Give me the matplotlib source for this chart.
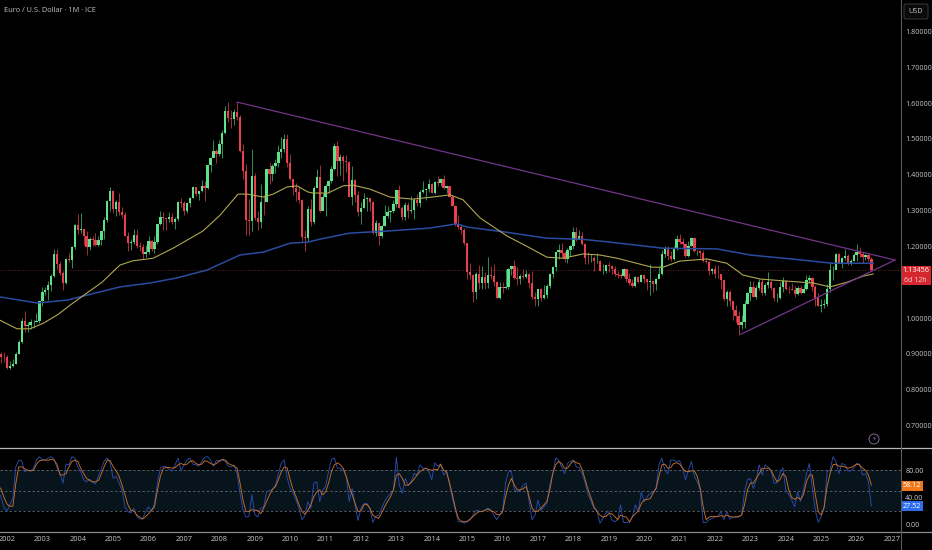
import matplotlib
matplotlib.use("Agg")
import matplotlib.pyplot as plt
from matplotlib.patches import Rectangle, FancyBboxPatch, Circle
import numpy as np

plt.rcParams['font.family'] = ['Open Sans', 'DejaVu Sans']

# Monthly candles, Oct 2001 .. Jun 2026
first_open = 0.9100
closes = [
 .9000,.8920,.8900,
 .8600,.8670,.8720,.9010,.9340,.9920,.9780,.9820,.9880,.9890,.9920,1.0490,
 1.0730,1.0780,1.0910,1.1170,1.1800,1.1500,1.1250,1.0980,1.1650,1.1610,1.1990,1.2590,
 1.2450,1.2480,1.2300,1.1970,1.2200,1.2190,1.2030,1.2170,1.2420,1.2750,1.3270,1.3550,
 1.3040,1.3250,1.2960,1.2870,1.2300,1.2100,1.2120,1.2330,1.2020,1.1990,1.1790,1.1840,
 1.2160,1.1930,1.2120,1.2630,1.2810,1.2790,1.2760,1.2810,1.2670,1.2760,1.3250,1.3200,
 1.2990,1.3220,1.3360,1.3650,1.3450,1.3540,1.3680,1.3640,1.4260,1.4480,1.4670,1.4590,
 1.4860,1.5180,1.5790,1.5590,1.5550,1.5750,1.5600,1.4670,1.4100,1.2730,1.2700,1.3970,
 1.2800,1.2670,1.3250,1.3240,1.4150,1.4030,1.4250,1.4340,1.4640,1.4720,1.4990,1.4320,
 1.3870,1.3630,1.3510,1.3290,1.2270,1.2230,1.3050,1.2680,1.3630,1.3940,1.2990,1.3380,
 1.3690,1.3830,1.4160,1.4810,1.4390,1.4500,1.4390,1.4360,1.3390,1.3850,1.3440,1.2960,
 1.3080,1.3320,1.3340,1.3240,1.2370,1.2660,1.2300,1.2580,1.2860,1.2960,1.2990,1.3190,
 1.3580,1.3070,1.2820,1.3170,1.3000,1.3010,1.3300,1.3220,1.3530,1.3580,1.3590,1.3740,
 1.3490,1.3800,1.3770,1.3870,1.3630,1.3690,1.3390,1.3130,1.2630,1.2530,1.2450,1.2100,
 1.1290,1.1200,1.0730,1.1220,1.0990,1.1140,1.0980,1.1210,1.1170,1.1000,1.0560,1.0860,
 1.0830,1.0870,1.1380,1.1450,1.1130,1.1100,1.1170,1.1150,1.1240,1.0980,1.0590,1.0520,
 1.0800,1.0570,1.0650,1.0900,1.1240,1.1420,1.1840,1.1910,1.1810,1.1640,1.1900,1.2000,
 1.2410,1.2190,1.2300,1.2080,1.1690,1.1680,1.1690,1.1600,1.1600,1.1310,1.1320,1.1470,
 1.1450,1.1370,1.1220,1.1210,1.1170,1.1370,1.1080,1.0980,1.0900,1.1150,1.1020,1.1210,
 1.1090,1.1020,1.1030,1.0950,1.1100,1.1230,1.1780,1.1940,1.1720,1.1650,1.1930,1.2210,
 1.2130,1.2080,1.1730,1.2020,1.2230,1.1860,1.1870,1.1810,1.1580,1.1560,1.1320,1.1370,
 1.1230,1.1220,1.1070,1.0540,1.0730,1.0480,1.0220,1.0050,.9800,.9880,1.0400,1.0700,
 1.0860,1.0580,1.0840,1.1020,1.0690,1.0910,1.1020,1.0840,1.0570,1.0570,1.0880,1.1040,
 1.0820,1.0810,1.0790,1.0670,1.0850,1.0710,1.0820,1.1050,1.1130,1.0880,1.0570,1.0350,
 1.0360,1.0380,1.0820,1.1330,1.1350,1.1790,1.1550,1.1690,1.1740,1.1530,1.1600,1.1750,
 1.1850,1.1790,1.1700,1.1750,1.1650,1.13456]
highs = [
 .9240,.9050,.9060,
 .8960,.8800,.8850,.9040,.9400,.9990,1.0200,.9900,.9960,.9950,1.0150,1.0490,
 1.0880,1.0880,1.1040,1.1240,1.1930,1.1930,1.1600,1.1300,1.1680,1.1830,1.2000,1.2640,
 1.2900,1.2930,1.2490,1.2420,1.2270,1.2300,1.2370,1.2300,1.2440,1.2820,1.3300,1.3670,
 1.3580,1.3290,1.3480,1.3090,1.2950,1.2400,1.2220,1.2500,1.2500,1.2120,1.2070,1.2030,
 1.2290,1.2180,1.2290,1.2640,1.2980,1.2960,1.2820,1.2970,1.2940,1.2810,1.3260,1.3360,
 1.3270,1.3240,1.3390,1.3680,1.3630,1.3550,1.3850,1.3840,1.4280,1.4500,1.4970,1.4730,
 1.4970,1.5240,1.5910,1.6020,1.5820,1.5830,1.6040,1.5660,1.4860,1.4300,1.3320,1.4720,
 1.4060,1.3000,1.3740,1.3430,1.4170,1.4340,1.4300,1.4450,1.4840,1.5060,1.5140,1.5140,
 1.4570,1.3820,1.3780,1.3690,1.3320,1.2460,1.3130,1.3330,1.3680,1.4160,1.4280,1.3500,
 1.3750,1.3860,1.4240,1.4880,1.4940,1.4580,1.4540,1.4550,1.4380,1.4250,1.3880,1.3550,
 1.3230,1.3480,1.3380,1.3340,1.3280,1.2750,1.2660,1.2590,1.3170,1.3140,1.3010,1.3310,
 1.3580,1.3710,1.3120,1.3240,1.3240,1.3420,1.3340,1.3450,1.3570,1.3830,1.3620,1.3890,
 1.3770,1.3820,1.3970,1.3900,1.3990,1.3700,1.3700,1.3440,1.3170,1.2890,1.2610,1.2520,
 1.2100,1.1530,1.1240,1.1290,1.1470,1.1440,1.1280,1.1710,1.1460,1.1500,1.1040,1.1000,
 1.1000,1.1370,1.1390,1.1460,1.1620,1.1420,1.1230,1.1370,1.1330,1.1260,1.1300,1.0730,
 1.0800,1.0830,1.0910,1.0950,1.1260,1.1450,1.1850,1.2070,1.2090,1.1880,1.1950,1.2030,
 1.2530,1.2550,1.2470,1.2410,1.2090,1.1850,1.1790,1.1730,1.1820,1.1630,1.1500,1.1490,
 1.1570,1.1490,1.1450,1.1320,1.1260,1.1410,1.1290,1.1250,1.1080,1.1180,1.1180,1.1240,
 1.1240,1.1100,1.1500,1.1020,1.1110,1.1420,1.1910,1.2010,1.2010,1.1860,1.2010,1.2310,
 1.2340,1.2240,1.1990,1.2150,1.2270,1.2250,1.1910,1.1900,1.1910,1.1690,1.1610,1.1390,
 1.1480,1.1490,1.1180,1.1070,1.0790,1.0770,1.0480,1.0370,1.0200,1.0090,1.0500,1.0740,
 1.1030,1.1030,1.0930,1.1100,1.1090,1.0980,1.1280,1.1070,1.0880,1.0690,1.1020,1.1140,
 1.1050,1.0900,1.0980,1.0890,1.0890,1.0920,1.0950,1.1200,1.1210,1.1140,1.0930,1.0690,
 1.0530,1.0530,1.0950,1.1570,1.1440,1.1820,1.1830,1.1710,1.1920,1.1780,1.1650,1.1810,
 1.2080,1.1990,1.1850,1.1800,1.1780,1.1700]
lows = [
 .8980,.8740,.8760,
 .8580,.8580,.8620,.8730,.9010,.9310,.9610,.9620,.9690,.9720,.9880,.9860,
 1.0340,1.0650,1.0510,1.0750,1.1160,1.1380,1.1210,1.0770,1.0950,1.1560,1.1400,1.1940,
 1.2340,1.2370,1.2050,1.1760,1.1900,1.2000,1.2000,1.2010,1.2040,1.2220,1.2680,1.3000,
 1.2940,1.2860,1.2870,1.2800,1.2290,1.1870,1.1900,1.2060,1.1960,1.1870,1.1640,1.1700,
 1.1800,1.1860,1.1810,1.2060,1.2610,1.2460,1.2460,1.2670,1.2620,1.2480,1.2720,1.3110,
 1.2870,1.2930,1.3090,1.3340,1.3400,1.3300,1.3510,1.3270,1.3600,1.4090,1.4510,1.4340,
 1.4530,1.4460,1.5130,1.5480,1.5320,1.5380,1.5530,1.4640,1.3880,1.2330,1.2330,1.2430,
 1.2730,1.2460,1.2510,1.2880,1.3250,1.3750,1.3840,1.4040,1.4220,1.4480,1.4630,1.4220,
 1.3860,1.3440,1.3270,1.3210,1.2140,1.1880,1.2150,1.2580,1.2640,1.3690,1.2970,1.3090,
 1.2860,1.3500,1.3760,1.4140,1.3970,1.4000,1.3840,1.4080,1.3380,1.3150,1.3240,1.2860,
 1.2620,1.3070,1.3000,1.3000,1.2340,1.2290,1.2040,1.2230,1.2560,1.2800,1.2670,1.2930,
 1.3110,1.3070,1.2740,1.2750,1.2790,1.2930,1.2770,1.3140,1.3100,1.3500,1.3300,1.3530,
 1.3480,1.3470,1.3700,1.3680,1.3600,1.3500,1.3380,1.3120,1.2570,1.2490,1.2360,1.2030,
 1.1100,1.1100,1.0450,1.0520,1.0810,1.0810,1.0810,1.0850,1.1080,1.0900,1.0560,1.0520,
 1.0710,1.0810,1.0820,1.1210,1.1100,1.0910,1.0950,1.1090,1.1130,1.0850,1.0520,1.0350,
 1.0340,1.0490,1.0520,1.0570,1.0840,1.1120,1.1310,1.1660,1.1710,1.1570,1.1550,1.1720,
 1.1920,1.2160,1.2240,1.2040,1.1510,1.1510,1.1570,1.1300,1.1530,1.1300,1.1220,1.1270,
 1.1290,1.1230,1.1180,1.1110,1.1110,1.1160,1.1020,1.0930,1.0880,1.0880,1.0990,1.1000,
 1.0990,1.0780,1.0640,1.0730,1.0790,1.1120,1.1190,1.1710,1.1610,1.1600,1.1610,1.1900,
 1.2060,1.1950,1.1700,1.1700,1.2010,1.1850,1.1750,1.1670,1.1560,1.1530,1.1190,1.1220,
 1.1120,1.1110,1.0810,1.0470,1.0350,1.0350,.9950,.9900,.9540,.9700,.9730,1.0390,
 1.0480,1.0580,1.0520,1.0790,1.0640,1.0630,1.0840,1.0770,1.0480,1.0450,1.0520,1.0720,
 1.0790,1.0700,1.0770,1.0600,1.0650,1.0660,1.0710,1.0770,1.0990,1.0760,1.0330,1.0340,
 1.0170,1.0280,1.0350,1.0730,1.1070,1.1360,1.1540,1.1390,1.1610,1.1480,1.1470,1.1580,
 1.1580,1.1700,1.1550,1.1620,1.1580,1.1300]

# Moving averages: (months since Jan 2002, price) as read
yellow_m = [-2.4,3.4,7.8,12.2,17.3,21.4,25.4,32.2,38.3,42.7,49.5,56.3,66.4,72.2,78.3,81.4,86.8,90.2,94.9,98.3,102,
            103.7,108.8,113.9,117.3,123,129.8,137.6,144.4,150.2,154.6,160.3,169.5,176.3,183,188.5,195.3,
            201,206.8,218.6,222.4,228,237.3,244,249.5,255.3,264.4,273.2,279,284.7,290.2,293.6]
yellow_p = [.994,.97,.97,.985,1.01,1.036,1.06,1.10,1.148,1.16,1.167,1.195,1.243,1.287,1.346,1.346,1.338,1.346,1.366,1.369,1.352,
            1.349,1.349,1.369,1.371,1.36,1.338,1.332,1.338,1.344,1.33,1.28,1.229,1.20,1.17,1.167,1.179,
            1.176,1.167,1.142,1.142,1.159,1.165,1.153,1.12,1.109,1.103,1.098,1.087,1.10,1.117,1.123]
blue_m = [-2.4,10.2,20.3,31.5,38.3,48.5,57.6,67.8,79,86.8,96,102,106,116,129,143,152.5,156,169,183,195,204.4,222.4,240.7,252,269.5,279.7,293.6]
blue_p = [1.059,1.042,1.05,1.073,1.087,1.098,1.112,1.134,1.176,1.184,1.209,1.212,1.22,1.237,1.243,1.251,1.263,1.254,1.24,1.223,1.22,1.212,1.195,1.193,1.176,1.162,1.153,1.153]

# Trend lines
trend_m = [78.0, 301.0, 248.8]
trend_p = [1.603, 1.162, 0.955]

# Stochastic RSI
stoch_k = [
 50,40,25,
 20,29,39,85,95,94,78,80,79,83,95,100,
 95,95,98,100,96,83,75,61,89,88,100,98,
 85,78,66,63,67,62,60,71,83,94,98,90,
 68,71,61,51,26,19,17,24,12,8,9,19,
 26,20,31,61,83,86,85,81,79,88,98,79,
 88,95,98,89,88,86,93,99,100,95,86,95,
 93,95,93,86,85,88,75,46,21,11,12,44,
 15,11,24,26,48,50,52,58,75,91,95,68,
 53,46,36,24,7,13,34,24,61,63,34,51,
 56,78,96,98,83,83,80,71,34,53,29,6,
 24,31,31,24,3,12,14,24,34,41,46,51,
 99,58,46,68,58,63,75,73,88,83,83,78,
 66,91,86,89,73,78,61,39,21,4,4,2,
 4,7,14,21,20,19,21,24,22,14,7,14,
 19,61,78,78,51,48,51,58,61,34,7,14,
 36,21,26,31,58,75,98,95,85,75,90,93,
 95,85,84,75,61,44,34,24,21,2,9,17,
 19,7,4,7,29,3,3,3,12,29,19,48,
 34,41,46,48,53,88,98,80,75,95,95,93,
 94,83,66,80,93,71,63,51,3,3,7,9,
 11,12,19,7,20,8,11,11,11,14,48,66,
 68,53,66,88,73,88,85,80,61,61,75,84,
 51,44,36,26,48,34,51,75,90,53,21,3,
 12,24,78,80,100,93,75,90,88,79,79,83,
 90,89,73,75,63,27.52]
stoch_d = [
 58,52,40,
 30,27,27,61,85,85,82,80,79,80,89,94,
 95,95,95,96,95,88,73,73,75,85,93,95,
 93,83,75,68,65,63,63,65,75,86,95,94,
 85,79,71,58,44,29,21,20,14,11,8,12,
 16,21,26,51,71,83,84,84,83,84,88,90,
 88,89,93,94,90,88,89,94,93,90,88,90,
 94,96,95,90,88,86,83,61,36,19,19,22,
 21,21,16,24,34,44,52,56,66,78,85,83,
 66,51,41,29,19,15,21,29,41,48,51,44,
 48,61,78,88,91,88,83,71,56,44,31,19,
 20,29,30,24,14,11,9,17,26,34,41,51,
 73,75,68,58,58,62,67,73,78,81,83,81,
 80,81,81,89,80,78,61,44,24,9,5,4,
 5,8,12,16,19,19,21,23,20,19,15,14,
 19,41,58,68,58,51,51,53,56,41,24,19,
 20,24,29,34,51,75,88,93,90,83,83,89,
 94,91,90,81,66,51,39,26,19,14,11,12,
 16,16,12,7,14,12,11,4,11,16,20,31,
 36,37,38,46,53,71,88,89,83,84,90,91,
 89,83,78,78,79,79,71,53,26,7,11,12,
 12,12,13,12,14,12,11,11,12,14,29,51,
 61,61,68,75,83,83,83,80,71,63,66,75,
 71,51,40,37,40,37,44,63,73,73,44,19,
 14,26,56,75,88,89,86,86,85,83,84,86,
 89,88,83,80,73,58.12]
stoch_levels = [80, 50, 20]

price_ticks = [0.7,0.8,0.9,1.0,1.2,1.3,1.4,1.5,1.6,1.7,1.8]
stoch_ticks = [80,40,0]
years = list(range(2002, 2028))
last_price = 1.13456

W, H = 932, 550
BG = '#000000'
GREEN = '#5fe08a'; RED = '#e8404c'
TXT = '#c4c6cc'

fig = plt.figure(figsize=(W/100, H/100), dpi=100, facecolor=BG)
pane_w = 901/W
ax = fig.add_axes([0, (H-447)/H, pane_w, 447/H], facecolor=BG)
ax2 = fig.add_axes([0, 18/H, pane_w, 84/H], facecolor=BG)

months = np.arange(-3, -3+len(closes))
opens = [first_open] + closes[:-1]
for m, o, h, l, c in zip(months, opens, highs, lows, closes):
    col = GREEN if c >= o else RED
    wick = '#2f8f55' if c >= o else '#a03038'
    ax.vlines(m, l, h, color=wick, lw=0.7, zorder=2)
    ax.bar(m, abs(c-o), bottom=min(o, c), width=0.78, color=col, lw=0, zorder=3)

ax.plot(blue_m, blue_p, color='#2b4c9e', lw=1.1, zorder=4)
ax.plot(yellow_m, yellow_p, color='#b0a850', lw=0.8, zorder=4)
ax.plot(trend_m[:2], trend_p[:2], color='#73358a', lw=0.9, zorder=5)
ax.plot(trend_m[1:], trend_p[1:], color='#73358a', lw=0.9, zorder=5)
ax.axhline(last_price, color='#8f262c', lw=0.6, ls=(0, (1, 2)), zorder=1)

xlim = (-2.37, 303.05)
ax.set_xlim(*xlim)
ax.set_ylim(0.640, 1.888)
ax.set_xticks([])
ax.yaxis.tick_right()
ax.set_yticks(price_ticks)
ax.set_yticklabels([f'{t:.5f}' for t in price_ticks], fontsize=5.2, color=TXT)
ax.tick_params(axis='y', length=0, pad=3)

ax2.axhspan(stoch_levels[2], stoch_levels[0], color='#08141c', lw=0, zorder=0)
for lv in stoch_levels:
    ax2.axhline(lv, color='#70757d', lw=0.55, ls=(0, (3, 3)), zorder=1)
ax2.plot(months, stoch_k, color='#2a4cad', lw=0.65, zorder=2)
ax2.plot(months, stoch_d, color='#c96f28', lw=0.65, zorder=3)
ax2.set_xlim(*xlim)
ax2.set_ylim(-11, 112.8)
ax2.set_xticks([(y-2002)*12 for y in years])
ax2.set_xticklabels([str(y) for y in years], fontsize=5.4, color=TXT)
ax2.yaxis.tick_right()
ax2.set_yticks(stoch_ticks)
ax2.set_yticklabels([f'{t:.2f}' for t in stoch_ticks], fontsize=5.2, color=TXT)
ax2.tick_params(axis='both', length=0, pad=3)

for a in (ax, ax2):
    for s in a.spines.values():
        s.set_visible(False)

# Overlay in pixel coordinates for separators, badges, title
ov = fig.add_axes([0, 0, 1, 1], facecolor='none', zorder=10)
ov.set_xlim(0, W); ov.set_ylim(H, 0); ov.axis('off')
ov.plot([0, W], [448, 448], color='#b8b8b8', lw=0.9)
ov.plot([0, W], [532, 532], color='#8c8c8c', lw=0.9)
ov.plot([901, 901], [0, H], color='#5a5a5a', lw=0.8)

ov.text(4, 11, 'Euro / U.S. Dollar · 1M · ICE', color=TXT, fontsize=5.3, va='center', ha='left')
ov.add_patch(FancyBboxPatch((904, 4), 24, 15, boxstyle='round,pad=0,rounding_size=2',
                            fc='#0a0a0a', ec='#3a3a3a', lw=0.7))
ov.text(916, 11.5, 'USD', color=TXT, fontsize=5.2, ha='center', va='center')

ov.add_patch(Rectangle((901, 265.5), 29.5, 19.5, fc='#d6262e', ec='none'))
ov.text(915.5, 270.5, '1.13456', color='white', fontsize=5.2, ha='center', va='center')
ov.text(915.5, 280, '6d 12h', color='#f3dada', fontsize=5, ha='center', va='center')

ov.add_patch(Rectangle((901, 480.7), 22, 10, fc='#f0771a', ec='none'))
ov.text(912, 485.7, '58.12', color='white', fontsize=5.2, ha='center', va='center')
ov.add_patch(Rectangle((901, 501), 22, 10, fc='#2f6df0', ec='none'))
ov.text(912, 506, '27.52', color='white', fontsize=5.2, ha='center', va='center')

ov.add_patch(Circle((874, 439), 5, fc='#000000', ec='#7a6a8a', lw=0.7))
ov.text(874, 439, '\u26a1', color='#8a5fb0', fontsize=5, ha='center', va='center',
        family='DejaVu Sans')

fig.savefig('out.png', dpi=100, facecolor=BG)
